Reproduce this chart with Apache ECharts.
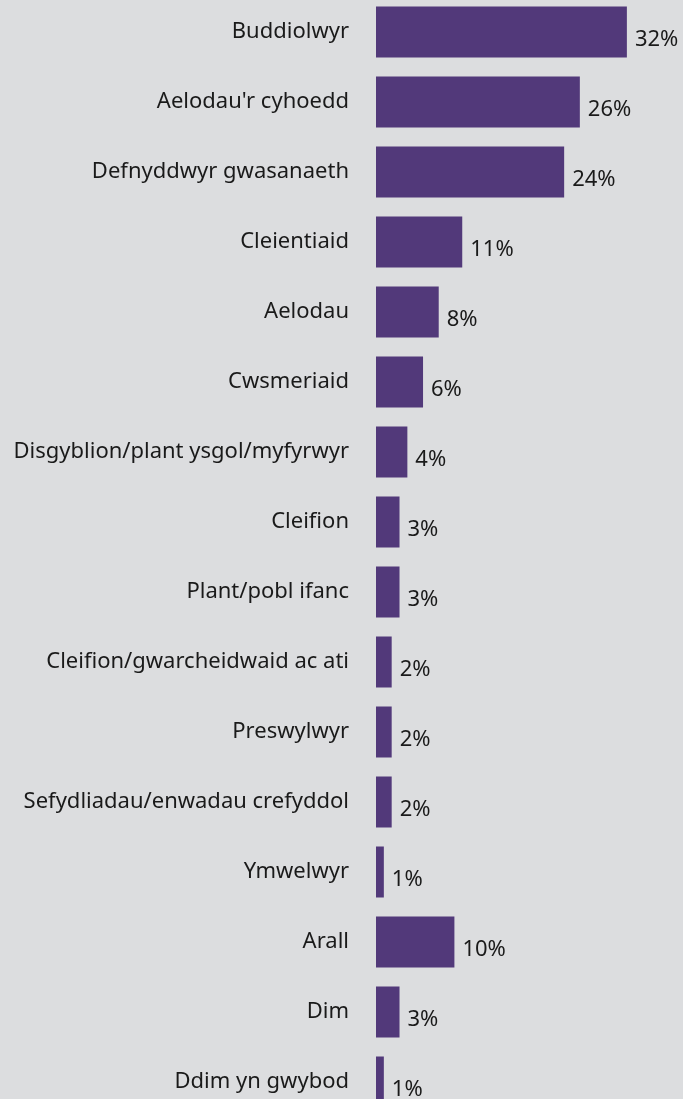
<!DOCTYPE html>
<html>
<head>
<meta charset="utf-8">
<style>
    html, body { margin: 0; padding: 0; background: #dcdddf; }
    #chart { width: 683px; height: 1099px; }
</style>
</head>
<body>
<div id="chart"></div>
<script src="https://cdn.jsdelivr.net/npm/echarts@6/dist/echarts.min.js"></script>
<script>
    // categories top to bottom
    var categories = [
        'Buddiolwyr',
        "Aelodau'r cyhoedd",
        'Defnyddwyr gwasanaeth',
        'Cleientiaid',
        'Aelodau',
        'Cwsmeriaid',
        'Disgyblion/plant ysgol/myfyrwyr',
        'Cleifion',
        'Plant/pobl ifanc',
        'Cleifion/gwarcheidwaid ac ati',
        'Preswylwyr',
        'Sefydliadau/enwadau crefyddol',
        'Ymwelwyr',
        'Arall',
        'Dim',
        'Ddim yn gwybod'
    ];
    // percent values
    var values = [32, 26, 24, 11, 8, 6, 4, 3, 3, 2, 2, 2, 1, 10, 3, 1];

    var chart = echarts.init(document.getElementById('chart'));

    var option = {
        backgroundColor: '#dcdddf',
        animation: false,
        grid: {
            left: 376,
            top: -3,
            width: 313.6,
            height: 1120,
            outerBoundsMode: 'none'
        },
        xAxis: {
            type: 'value',
            min: 0,
            max: 40,
            show: false
        },
        yAxis: {
            type: 'category',
            inverse: true,
            data: categories,
            axisLine: {show: false},
            axisTick: {show: false},
            axisLabel: {
                margin: 27,
                fontSize: 22,
                fontFamily: 'Noto Sans',
                color: '#1a1a1a',
                padding: [0, 0, 6, 0]
            }
        },
        series: [
            {
                type: 'bar',
                data: values,
                barWidth: 51,
                itemStyle: {color: '#52397a'},
                label: {
                    show: true,
                    position: 'right',
                    distance: 8,
                    offset: [0, 8],
                    fontSize: 22,
                    fontFamily: 'Noto Sans',
                    color: '#1a1a1a',
                    formatter: '{c}%'
                }
            }
        ]
    };

    chart.setOption(option);
</script>
</body>
</html>
